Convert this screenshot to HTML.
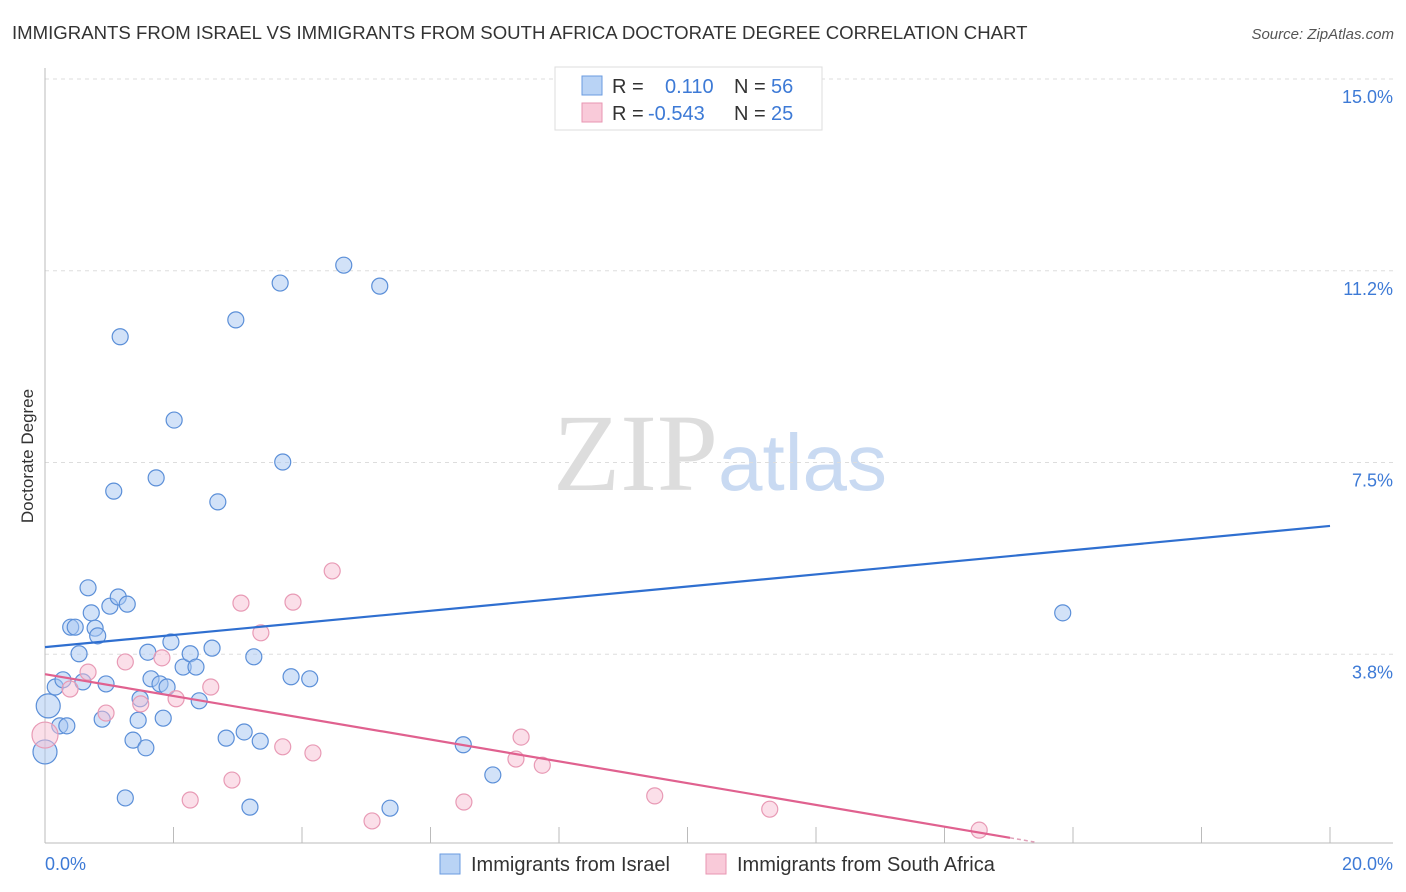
<!DOCTYPE html>
<html><head><meta charset="utf-8">
<style>
body{margin:0;background:#fff;font-family:"Liberation Sans",sans-serif;}
svg{display:block}
</style></head>
<body>
<svg id="chart" width="1406" height="892" viewBox="0 0 1406 892" xmlns="http://www.w3.org/2000/svg">
<text x="12" y="39" font-size="18.6" fill="#333">IMMIGRANTS FROM ISRAEL VS IMMIGRANTS FROM SOUTH AFRICA DOCTORATE DEGREE CORRELATION CHART</text>
<text x="1394" y="39" font-size="15" fill="#555" font-style="italic" text-anchor="end">Source: ZipAtlas.com</text>
<text transform="translate(33,456) rotate(-90)" font-size="17" fill="#333" text-anchor="middle">Doctorate Degree</text>
<g>
<text x="553" y="490" font-size="110" font-family="Liberation Serif,serif" fill="#ddd">ZIP</text>
<text x="718" y="490" font-size="80" fill="#c9daf2">atlas</text>
</g>
<g id="grid"></g>
<g id="axes"></g>
<g id="marks"></g>
<g>
<rect x="555" y="67" width="267" height="63" fill="#fff" stroke="#ddd"/>
<rect x="582" y="76" width="20" height="19" fill="#b9d3f5" stroke="#6a9be0"/>
<text x="612" y="93" font-size="20" fill="#333">R = </text><text x="665" y="93" font-size="20" fill="#3d7ad6">0.110</text>
<text x="734" y="93" font-size="20" fill="#333">N = </text><text x="771" y="93" font-size="20" fill="#3d7ad6">56</text>
<rect x="582" y="103" width="20" height="19" fill="#f9cad9" stroke="#e896b2"/>
<text x="612" y="120" font-size="20" fill="#333">R = </text><text x="648" y="120" font-size="20" fill="#3d7ad6">-0.543</text>
<text x="734" y="120" font-size="20" fill="#333">N = </text><text x="771" y="120" font-size="20" fill="#3d7ad6">25</text>
</g>
<g>
<rect x="440" y="854" width="20" height="20" fill="#b9d3f5" stroke="#6a9be0"/>
<text x="471" y="871" font-size="20" fill="#333">Immigrants from Israel</text>
<rect x="706" y="854" width="20" height="20" fill="#f9cad9" stroke="#e896b2"/>
<text x="737" y="871" font-size="20" fill="#333">Immigrants from South Africa</text>
</g>
</svg>
<script>
const yTicks=[3.75,7.5,11.25,15];
const yTickLabels=["3.8%","7.5%","11.2%","15.0%"];
const xTicks=[0,2,4,6,8,10,12,14,16,18,20];
const israelX=[0,0.05,0.16,0.23,0.28,0.34,0.40,0.47,0.53,0.59,0.67,0.72,0.78,0.82,0.89,0.95,1.01,1.07,1.14,1.17,1.25,1.28,1.37,1.45,1.48,1.57,1.60,1.65,1.73,1.79,1.84,1.90,1.96,2.01,2.15,2.26,2.35,2.40,2.60,2.69,2.82,2.97,3.10,3.19,3.25,3.35,3.66,3.70,3.83,4.12,4.65,5.21,5.37,6.51,6.97,15.84];
const israelY=[1.84,2.74,3.11,2.35,3.25,2.35,4.28,4.28,3.76,3.21,5.05,4.56,4.26,4.11,2.48,3.17,4.69,6.94,4.87,9.96,0.94,4.73,2.07,2.46,2.88,1.92,3.79,3.27,7.20,3.17,2.50,3.11,3.99,8.33,3.50,3.76,3.50,2.84,3.87,6.73,2.11,10.29,2.23,0.76,3.70,2.05,11.01,7.51,3.31,3.27,11.36,10.95,0.74,1.98,1.39,4.56];
const saX=[0,0.39,0.67,0.95,1.25,1.49,1.82,2.04,2.26,2.58,2.91,3.05,3.36,3.70,3.86,4.17,4.47,5.09,6.52,7.33,7.41,7.74,9.49,11.28,14.54];
const saY=[2.17,3.07,3.40,2.60,3.60,2.78,3.68,2.88,0.90,3.11,1.29,4.75,4.17,1.94,4.77,1.82,5.38,0.49,0.86,1.70,2.13,1.58,0.98,0.72,0.31];
const israelTrend=[3.89,6.26];
const saTrend=[3.36,0.16,15.02];
const NS="http://www.w3.org/2000/svg";
const X=v=>45+v*64.25, Y=v=>846-v*51.13;
function mk(parent,tag,attrs){const e=document.createElementNS(NS,tag);for(const k in attrs)e.setAttribute(k,attrs[k]);document.getElementById(parent).appendChild(e);return e;}
yTicks.forEach((t,i)=>{
 const l=mk('grid','line',{x1:45,x2:1393,y1:Y(t),y2:Y(t),stroke:'#ddd','stroke-dasharray':'4,4'});
 
 
 const tx=mk('grid','text',{x:1393,y:Y(t)+24,'font-size':18,fill:'#3d7ad6','text-anchor':'end'});
 tx.textContent=yTickLabels[i];
 
 
});
const topGrid=mk('grid','line',{x1:45,x2:1393,y1:79,y2:79,stroke:'#ddd','stroke-dasharray':'4,4'});


const ya=mk('axes','line',{x1:45,x2:45,y1:68,y2:843,stroke:'#bbb'});


const xa=mk('axes','line',{x1:45,x2:1393,y1:843,y2:843,stroke:'#bbb'});


xTicks.forEach(t=>{const l=mk('axes','line',{x1:X(t),x2:X(t),y1:827,y2:843,stroke:'#bbb'});
 
 });
const xl0=mk('axes','text',{x:45,y:870,'font-size':18,fill:'#3d7ad6'});xl0.textContent='0.0%';


const xl1=mk('axes','text',{x:1393,y:870,'font-size':18,fill:'#3d7ad6','text-anchor':'end'});xl1.textContent='20.0%';


israelX.forEach((v,i)=>{const c=mk('marks','circle',{cx:X(v),cy:Y(israelY[i]),r:(i<2?12:8),fill:'rgba(165,198,242,0.5)',stroke:'#5b8fd8','stroke-width':1.2});
 
 });
saX.forEach((v,i)=>{const c=mk('marks','circle',{cx:X(v),cy:Y(saY[i]),r:(i<1?13:8),fill:'rgba(248,192,212,0.5)',stroke:'#e89ab5','stroke-width':1.2});
 
 });
const bl=mk('marks','line',{x1:X(0),y1:Y(israelTrend[0]),x2:X(20),y2:Y(israelTrend[1]),stroke:'#2f6fd0','stroke-width':2.2});


const pl=mk('marks','line',{x1:X(0),y1:Y(saTrend[0]),x2:X(saTrend[2]),y2:Y(saTrend[1]),stroke:'#e0618f','stroke-width':2.2});


const slope=(saTrend[1]-saTrend[0])/saTrend[2];
const pd=mk('marks','line',{x1:X(saTrend[2]),y1:Y(saTrend[1]),x2:X(15.4),y2:Y(saTrend[0]+slope*15.4),stroke:'#e0a0b8','stroke-width':1.5,'stroke-dasharray':'4,3'});


</script>
</body></html>
